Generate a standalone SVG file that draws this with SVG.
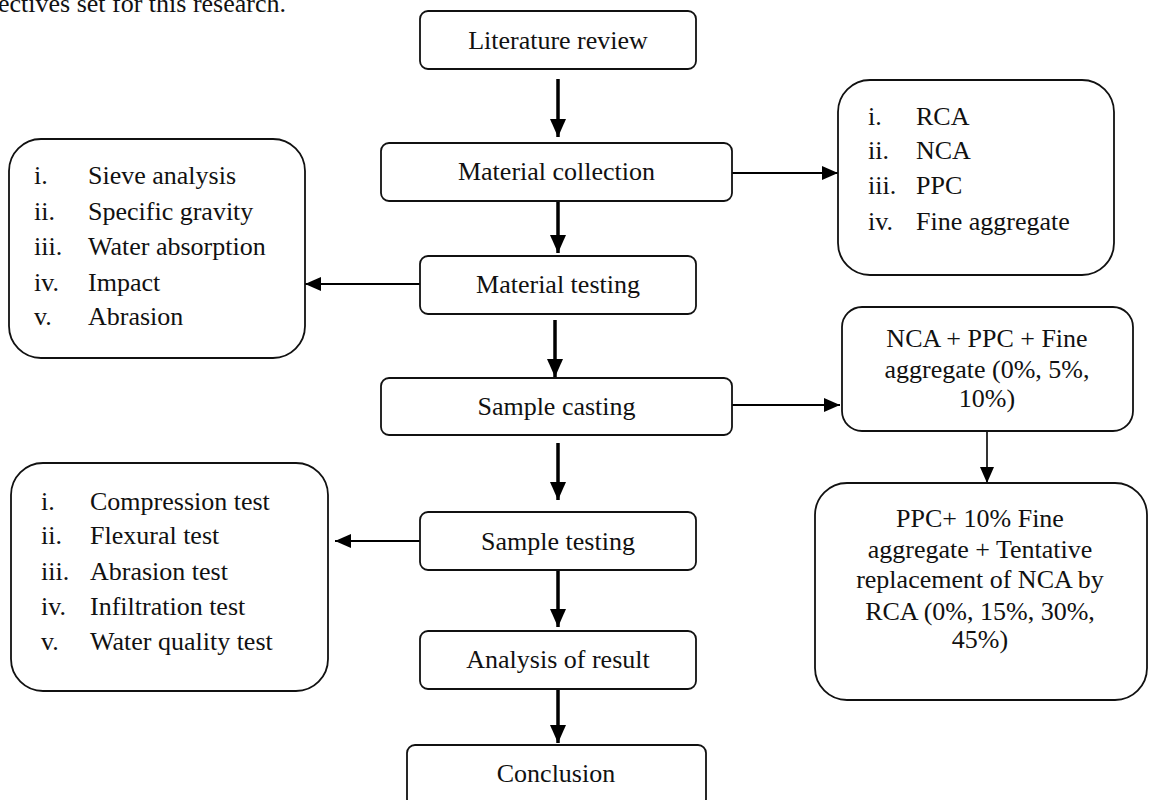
<svg xmlns="http://www.w3.org/2000/svg" width="1150" height="800" viewBox="0 0 1150 800">
<style>
text{font-family:"Liberation Serif","Times New Roman",serif;font-size:26px;fill:#111}
.c{text-anchor:middle}
.box{fill:#fff;stroke:#111;stroke-width:1.8}
.thick{stroke:#000;stroke-width:3.5;fill:none}
.mid{stroke:#000;stroke-width:2.2;fill:none}
.thin{stroke:#000;stroke-width:1.6;fill:none}
</style>
<defs>
<marker id="big" viewBox="0 0 18 16" refX="18" refY="8" markerWidth="18" markerHeight="16" markerUnits="userSpaceOnUse" orient="auto">
<path d="M0,0 L18,8 L0,16 z" fill="#000"/>
</marker>
<marker id="sm" viewBox="0 0 16 14" refX="16" refY="7" markerWidth="16" markerHeight="14" markerUnits="userSpaceOnUse" orient="auto">
<path d="M0,0 L16,7 L0,14 z" fill="#000"/>
</marker>
</defs>
<rect width="1150" height="800" fill="#fff"/>
<text x="286" y="12" text-anchor="end">ectives set for this research.</text>

<g id="connectors">
<line class="thick" x1="558" y1="79" x2="558" y2="137" marker-end="url(#big)"/>
<line class="thick" x1="558" y1="201" x2="558" y2="253" marker-end="url(#big)"/>
<line class="thick" x1="555" y1="320" x2="555" y2="377" marker-end="url(#big)"/>
<line class="thick" x1="558" y1="443" x2="558" y2="500" marker-end="url(#big)"/>
<line class="thick" x1="558" y1="570" x2="558" y2="627" marker-end="url(#big)"/>
<line class="thick" x1="558" y1="689" x2="558" y2="743" marker-end="url(#big)"/>
<line class="mid" x1="732" y1="173" x2="838" y2="173" marker-end="url(#sm)"/>
<line class="mid" x1="420" y1="284" x2="305" y2="284" marker-end="url(#sm)"/>
<line class="mid" x1="732" y1="405" x2="840" y2="405" marker-end="url(#sm)"/>
<line class="mid" x1="420" y1="541" x2="335" y2="541" marker-end="url(#sm)"/>
<line class="thin" x1="987" y1="431" x2="987" y2="483" marker-end="url(#sm)"/>
</g>

<g id="literature-review">
<rect class="box" x="420" y="11" width="276" height="58" rx="8"/>
<text class="c" x="558" y="49">Literature review</text>
</g>
<g id="material-collection">
<rect class="box" x="381" y="143" width="351" height="58" rx="8"/>
<text class="c" x="556.5" y="180">Material collection</text>
</g>
<g id="material-testing">
<rect class="box" x="420" y="256" width="276" height="58" rx="8"/>
<text class="c" x="558" y="293">Material testing</text>
</g>
<g id="sample-casting">
<rect class="box" x="381" y="378" width="351" height="57" rx="8"/>
<text class="c" x="556.5" y="415">Sample casting</text>
</g>
<g id="sample-testing">
<rect class="box" x="420" y="512" width="276" height="58" rx="8"/>
<text class="c" x="558" y="550">Sample testing</text>
</g>
<g id="analysis-of-result">
<rect class="box" x="420" y="631" width="276" height="58" rx="8"/>
<text class="c" x="558" y="668">Analysis of result</text>
</g>
<g id="conclusion">
<rect class="box" x="407" y="745" width="299" height="62" rx="8"/>
<text class="c" x="556" y="782">Conclusion</text>
</g>

<g id="material-tests">
<rect class="box" x="9" y="139" width="296" height="219" rx="32"/>
<text x="34" y="184">i.</text><text x="88" y="184">Sieve analysis</text>
<text x="34" y="220">ii.</text><text x="88" y="220">Specific gravity</text>
<text x="34" y="255">iii.</text><text x="88" y="255">Water absorption</text>
<text x="34" y="291">iv.</text><text x="88" y="291">Impact</text>
<text x="34" y="325">v.</text><text x="88" y="325">Abrasion</text>
</g>

<g id="materials">
<rect class="box" x="838" y="80" width="276" height="195" rx="32"/>
<text x="868" y="125">i.</text><text x="916" y="125">RCA</text>
<text x="868" y="159">ii.</text><text x="916" y="159">NCA</text>
<text x="868" y="194">iii.</text><text x="916" y="194">PPC</text>
<text x="868" y="230">iv.</text><text x="916" y="230">Fine aggregate</text>
</g>

<g id="mix-1">
<rect class="box" x="842" y="307" width="291" height="124" rx="20"/>
<text class="c" x="987" y="347">NCA + PPC + Fine</text>
<text class="c" x="987" y="378">aggregate (0%, 5%,</text>
<text class="c" x="987" y="407">10%)</text>
</g>

<g id="mix-2">
<rect class="box" x="815" y="483" width="332" height="217" rx="32"/>
<text class="c" x="980" y="527">PPC+ 10% Fine</text>
<text class="c" x="980" y="558">aggregate + Tentative</text>
<text class="c" x="980" y="588">replacement of NCA by</text>
<text class="c" x="980" y="620">RCA (0%, 15%, 30%,</text>
<text class="c" x="980" y="648">45%)</text>
</g>

<g id="sample-tests">
<rect class="box" x="11" y="463" width="317" height="228" rx="32"/>
<text x="41" y="510">i.</text><text x="90" y="510">Compression test</text>
<text x="41" y="544">ii.</text><text x="90" y="544">Flexural test</text>
<text x="41" y="580">iii.</text><text x="90" y="580">Abrasion test</text>
<text x="41" y="615">iv.</text><text x="90" y="615">Infiltration test</text>
<text x="41" y="650">v.</text><text x="90" y="650">Water quality test</text>
</g>
</svg>
